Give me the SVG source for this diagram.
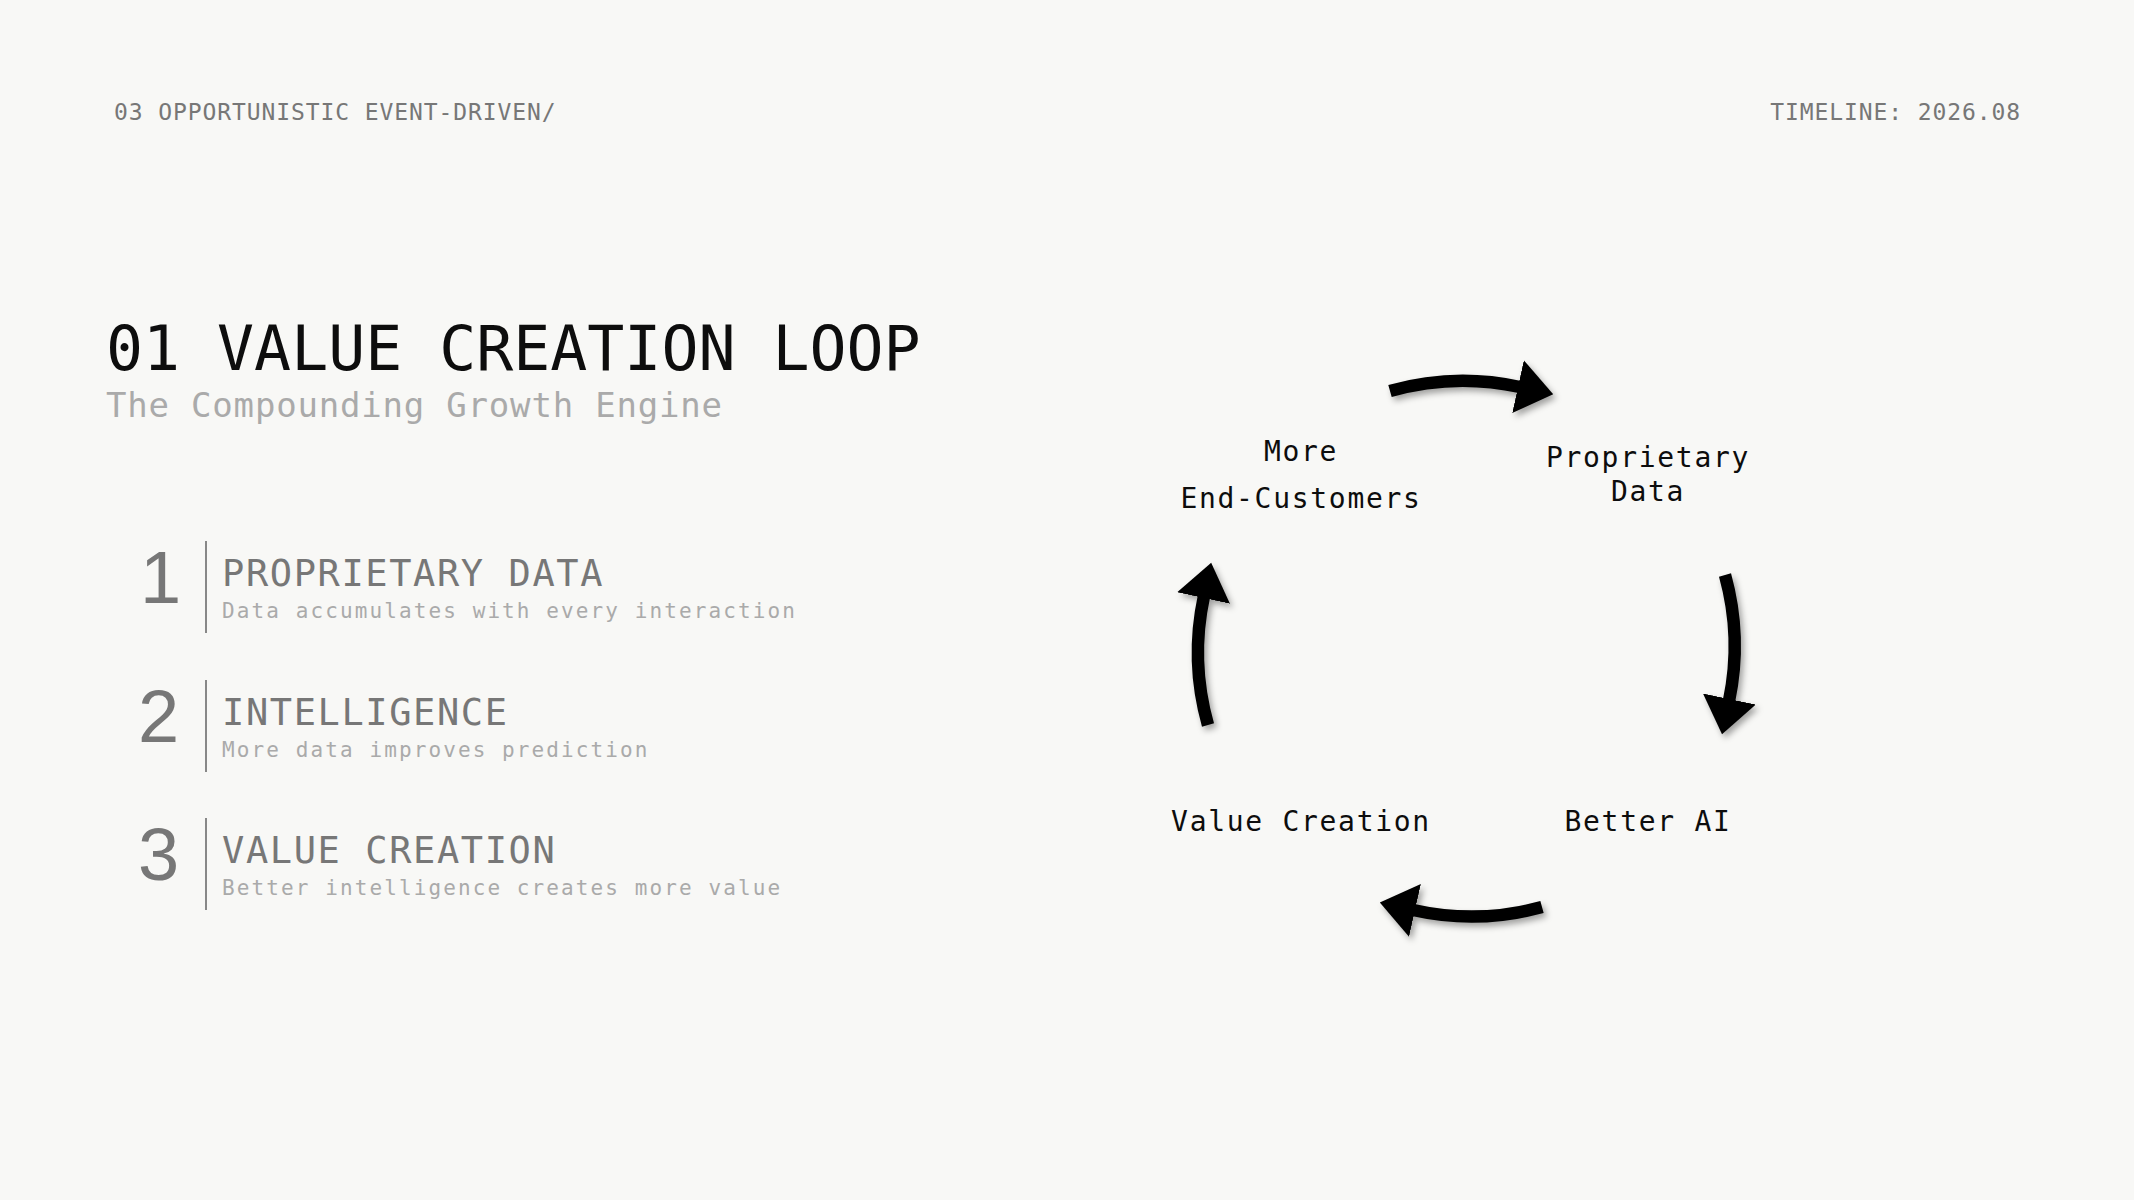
<svg xmlns="http://www.w3.org/2000/svg" width="2134" height="1200" viewBox="0 0 2134 1200">
  <defs>
    <style>
      .mono { font-family: "DejaVu Sans Mono", "Liberation Mono", monospace; }
      .hdr { font-size: 23px; letter-spacing: 0.9px; fill: #777; }
      .title { font-size: 61.5px; fill: #0d0d0d; }
      .sub { font-size: 34px; letter-spacing: 0.8px; fill: #aaa; }
      .num { font-family: "Liberation Sans", Arial, sans-serif; font-size: 74px; fill: #777; }
      .itl { font-size: 37px; letter-spacing: 1.6px; fill: #777; }
      .desc { font-size: 21px; letter-spacing: 2.1px; fill: #aaa; }
      .bar { stroke: #888; stroke-width: 2; }
      .lbl { font-size: 28px; letter-spacing: 1.7px; fill: #0d0d0d; text-anchor: middle; }
      .arc { fill: none; stroke: #000; stroke-width: 12.5; stroke-linecap: butt; marker-end: url(#head); }
    </style>
    <marker id="head" markerUnits="userSpaceOnUse" viewBox="0 -28 37 56" refX="2" refY="0" markerWidth="37" markerHeight="56" orient="auto">
      <path d="M0,-27 L36,0 L0,27 Z" fill="#000"/>
    </marker>
    <filter id="shadow" x="-20%" y="-20%" width="140%" height="140%">
      <feDropShadow dx="3" dy="4" stdDeviation="3" flood-color="#000" flood-opacity="0.35"/>
    </filter>
  </defs>

  <rect x="0" y="0" width="2134" height="1200" fill="#f8f8f6"/>

  <g id="header">
    <text class="mono hdr" x="114" y="120">03 OPPORTUNISTIC EVENT-DRIVEN/</text>
    <text class="mono hdr" x="2021" y="120" text-anchor="end">TIMELINE: 2026.08</text>
  </g>

  <g id="heading">
    <text class="mono title" x="106" y="370">01 VALUE CREATION LOOP</text>
    <text class="mono sub" x="106" y="417">The Compounding Growth Engine</text>
  </g>

  <g id="item-1">
    <text class="num" x="140" y="603">1</text>
    <line class="bar" x1="206" y1="541" x2="206" y2="633"/>
    <text class="mono itl" x="222" y="586">PROPRIETARY DATA</text>
    <text class="mono desc" x="222" y="618">Data accumulates with every interaction</text>
  </g>

  <g id="item-2">
    <text class="num" x="138" y="741.5">2</text>
    <line class="bar" x1="206" y1="680" x2="206" y2="772"/>
    <text class="mono itl" x="222" y="724.5">INTELLIGENCE</text>
    <text class="mono desc" x="222" y="756.5">More data improves prediction</text>
  </g>

  <g id="item-3">
    <text class="num" x="138" y="880">3</text>
    <line class="bar" x1="206" y1="818" x2="206" y2="910"/>
    <text class="mono itl" x="222" y="863">VALUE CREATION</text>
    <text class="mono desc" x="222" y="895">Better intelligence creates more value</text>
  </g>

  <g id="node-customers">
    <text class="mono lbl" x="1301" y="461">More</text>
    <text class="mono lbl" x="1301" y="508">End-Customers</text>
  </g>
  <g id="node-data">
    <text class="mono lbl" x="1648" y="467">Proprietary</text>
    <text class="mono lbl" x="1648" y="501">Data</text>
  </g>
  <g id="node-ai">
    <text class="mono lbl" x="1648" y="831">Better AI</text>
  </g>
  <g id="node-value">
    <text class="mono lbl" x="1301" y="831">Value Creation</text>
  </g>

  <g id="connectors" filter="url(#shadow)">
    <path class="arc" d="M1390,391 A267,267 0 0 1 1520,387"/>
    <path class="arc" d="M1725,575 A267,267 0 0 1 1729,701"/>
    <path class="arc" d="M1542,907 A267,267 0 0 1 1413,910"/>
    <path class="arc" d="M1208,725 A267,267 0 0 1 1204,596"/>
  </g>
</svg>
